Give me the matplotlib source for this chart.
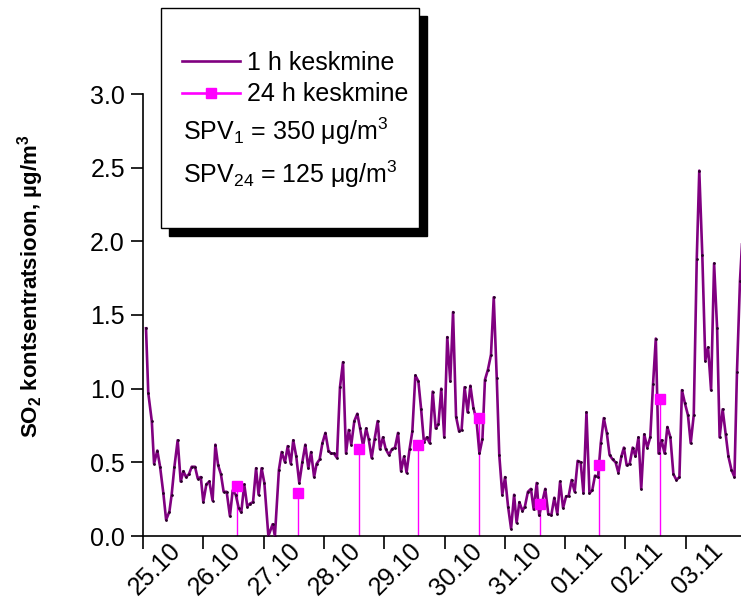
import matplotlib
matplotlib.use('Agg')
import matplotlib.pyplot as plt
from matplotlib.patches import Rectangle
from matplotlib.lines import Line2D
from matplotlib.ticker import NullFormatter

plt.rcParams['font.family'] = ['Liberation Sans', 'DejaVu Sans']
plt.rcParams['mathtext.fontset'] = 'custom'
plt.rcParams['mathtext.rm'] = 'Liberation Sans'
plt.rcParams['mathtext.it'] = 'Liberation Sans:italic'
plt.rcParams['mathtext.bf'] = 'Liberation Sans:bold'

# ---- data (time in hours from 25.10 00:00) ----
t_1h = [1.2, 2.1, 3.5, 4.4, 5.7, 6.8, 8.1, 9.2, 10.5, 11.4, 12.5, 13.8, 15.0, 16.1,
        17.1, 18.3, 19.4, 20.7, 21.8, 23.0, 24.0, 25.2, 26.4, 27.7, 28.8, 29.9,
        31.0, 32.1, 33.3, 34.6, 35.7, 36.9, 38.1, 39.1, 40.3, 41.5, 42.6, 43.8,
        45.0, 46.0, 47.2, 48.3, 49.9, 51.6, 52.5, 54.1, 55.2, 56.5, 57.6, 58.8,
        59.8, 61.0, 62.2, 63.4, 64.6, 65.8, 66.9, 68.1, 69.1, 70.3, 71.4, 72.6,
        73.8, 74.8, 76.0, 77.2, 78.4, 79.6, 80.8, 81.9, 82.9, 84.1, 85.3, 86.4,
        87.6, 88.8, 89.8, 91.0, 92.2, 93.4, 94.3, 95.5, 96.6, 97.9, 99.1, 100.3,
        101.5, 102.7, 103.9, 104.9, 106.1, 107.2, 108.4, 109.6, 110.7, 111.8,
        113.0, 114.1, 115.3, 116.5, 117.6, 118.7, 119.9, 121.1, 122.3, 123.4,
        124.6, 125.8, 126.8, 128.0, 129.2, 130.3, 131.5, 132.7, 133.9, 135.1,
        136.1, 137.3, 138.5, 139.6, 140.8, 141.8, 143.0, 144.1, 145.3, 146.5,
        147.7, 148.7, 149.8, 151.0, 152.0, 153.2, 154.4, 155.5, 156.7, 157.7,
        158.9, 160.1, 161.3, 162.5, 163.7, 164.9, 166.0, 167.2, 168.4, 169.4,
        170.6, 171.8, 173.0, 174.2, 175.3, 176.5, 177.7, 178.8, 179.9, 181.1,
        182.2, 183.4, 184.6, 185.7, 186.9, 188.1, 189.2, 190.4, 191.4, 192.5,
        193.7, 194.9, 196.0, 197.2, 198.3, 199.5, 200.7, 201.9, 203.0, 204.1,
        205.2, 206.4, 207.6, 208.7, 209.9, 211.1, 212.3, 213.5, 214.5, 215.7,
        216.9, 218.0, 219.2, 220.4, 221.4, 222.6, 223.8, 224.9, 226.1, 227.3,
        228.5, 229.5, 230.7, 231.9, 233.0, 234.2, 235.4, 236.4, 237.6, 238.8]
v_1h = [1.41, 0.97, 0.78, 0.49, 0.58, 0.47, 0.29, 0.11, 0.165, 0.28, 0.47, 0.65, 0.37, 0.44,
        0.40, 0.42, 0.47, 0.47, 0.39, 0.40, 0.23, 0.35, 0.37, 0.24, 0.62, 0.48,
        0.42, 0.30, 0.30, 0.135, 0.31, 0.28, 0.19, 0.16, 0.35, 0.20, 0.22, 0.23,
        0.46, 0.28, 0.46, 0.36, 0.00, 0.08, 0.00, 0.45, 0.57, 0.50, 0.61, 0.49,
        0.65, 0.54, 0.36, 0.50, 0.62, 0.46, 0.57, 0.40, 0.49, 0.52, 0.63, 0.70,
        0.58, 0.56, 0.56, 0.53, 1.01, 1.18, 0.56, 0.72, 0.62, 0.78, 0.83, 0.73,
        0.61, 0.73, 0.66, 0.53, 0.66, 0.78, 0.59, 0.67, 0.59, 0.55, 0.59, 0.60,
        0.70, 0.44, 0.54, 0.43, 0.59, 0.71, 1.09, 1.05, 0.86, 0.64,
        0.67, 0.63, 0.98, 0.73, 0.76, 1.00, 0.67, 1.35, 1.05, 1.52,
        0.81, 0.71, 0.72, 1.01, 0.84, 1.02, 0.87, 0.79, 0.56, 0.66,
        1.06, 1.13, 1.23, 1.62, 1.07, 0.55, 0.28, 0.40, 0.20, 0.05,
        0.28, 0.09, 0.23, 0.17, 0.20, 0.30, 0.32, 0.18, 0.36, 0.14,
        0.23, 0.32, 0.15, 0.14, 0.26, 0.15, 0.37, 0.19, 0.27, 0.27,
        0.38, 0.30, 0.51, 0.50, 0.29, 0.84, 0.29, 0.31, 0.41, 0.40,
        0.63, 0.80, 0.70, 0.55, 0.52, 0.50, 0.43, 0.54, 0.60, 0.48,
        0.49, 0.60, 0.54, 0.67, 0.32, 0.69, 0.60, 0.67, 1.03, 1.34,
        0.56, 0.65, 0.56, 0.74, 0.67, 0.42, 0.38, 0.40, 0.99, 0.90,
        0.82, 0.63, 0.82, 1.88, 2.48, 1.91, 1.19, 1.28, 0.99, 1.85,
        1.41, 0.67, 0.86, 0.69, 0.54, 0.45, 0.40, 1.11, 1.73, 2.10]

t_24h = [37.4, 61.7, 86.0, 109.5, 133.7, 158.0, 181.5, 205.8]
v_24h = [0.34, 0.29, 0.59, 0.62, 0.80, 0.22, 0.48, 0.93]

day_labels = ['25.10', '26.10', '27.10', '28.10', '29.10', '30.10',
              '31.10', '01.11', '02.11', '03.11']
y_ticks = [0.0, 0.5, 1.0, 1.5, 2.0, 2.5, 3.0]

PURPLE = '#800080'
MAGENTA = '#FF00FF'

W, H = 741, 601
fig = plt.figure(figsize=(W / 100, H / 100), dpi=100)


def fx(px):
    return px / W


def fy(py):
    return 1 - py / H


ax = fig.add_axes([fx(143), fy(536), fx(741) - fx(143), fy(94) - fy(536)])
ax.set_facecolor('none')

# 24 h stems + markers
ax.vlines(t_24h, 0, v_24h, colors=MAGENTA, linewidth=1.0, zorder=2)
ax.plot(t_24h, v_24h, linestyle='none', marker='s', markersize=7.2,
        color=MAGENTA, zorder=4)
# 1 h line
ax.plot(t_1h, v_1h, color=PURPLE, linewidth=1.9, zorder=3,
        marker='o', markersize=1.0, markerfacecolor='#2a002a',
        markeredgecolor='#2a002a')

ax.set_xlim(0, (741 - 143) / 2.5125)
ax.set_ylim(0, 3.0)

for s in ['top', 'right']:
    ax.spines[s].set_visible(False)
for s in ['left', 'bottom']:
    ax.spines[s].set_linewidth(1.2)

ax.set_yticks(y_ticks)
ax.set_yticklabels([f'{v:.1f}' for v in y_ticks])
ax.tick_params(axis='y', direction='out', length=9, width=1.2, labelsize=18, pad=4)

day_pos = [24 * i for i in range(len(day_labels))]
ax.set_xticks(day_pos)
ax.xaxis.set_major_formatter(NullFormatter())
ax.tick_params(axis='x', which='major', direction='out', length=9, width=1.2)
ax.set_xticks([p + 10 for p in day_pos], minor=True)
ax.set_xticklabels(day_labels, minor=True)
ax.tick_params(axis='x', which='minor', length=0, labelsize=18, pad=2)
for lab in ax.get_xticklabels(minor=True):
    lab.set_rotation(45)
    lab.set_ha('right')
    lab.set_va('top')
    lab.set_rotation_mode('anchor')

# y label
fig.text(fx(31), fy(286), 'SO$_\\mathbf{2}$ kontsentratsioon, µg/m$^\\mathbf{3}$',
         rotation=90, ha='center', va='center', fontsize=16, fontweight='bold')

# legend box with shadow
x0, y0, x1, y1 = 160.7, 8.3, 418.7, 227.7
sh = 8
fig.add_artist(Rectangle((fx(x0 + sh), fy(y1 + sh)), fx(x1) - fx(x0), fy(y0) - fy(y1),
                         transform=fig.transFigure, facecolor='black',
                         edgecolor='black', zorder=5))
fig.add_artist(Rectangle((fx(x0), fy(y1)), fx(x1) - fx(x0), fy(y0) - fy(y1),
                         transform=fig.transFigure, facecolor='white',
                         edgecolor='black', linewidth=1.0, zorder=6))
fig.add_artist(Line2D([fx(182), fx(240)], [fy(60.5), fy(60.5)], transform=fig.transFigure,
                      color=PURPLE, linewidth=1.9, zorder=7))
fig.add_artist(Line2D([fx(182), fx(240)], [fy(92.7), fy(92.7)], transform=fig.transFigure,
                      color=MAGENTA, linewidth=1.9, zorder=7))
fig.add_artist(Line2D([fx(211)], [fy(92.7)], transform=fig.transFigure,
                      color=MAGENTA, marker='s', markersize=7.2, zorder=8))
fig.text(fx(247), fy(70), '1 h keskmine', fontsize=18, va='baseline', ha='left', zorder=8)
fig.text(fx(247), fy(100.7), '24 h keskmine', fontsize=18, va='baseline', ha='left', zorder=8)
fig.text(fx(183), fy(140), 'SPV$_1$ = 350 μg/m$^3$', fontsize=18, va='baseline', ha='left', zorder=8)
fig.text(fx(183), fy(183.3), 'SPV$_{24}$ = 125 μg/m$^3$', fontsize=18, va='baseline', ha='left', zorder=8)

fig.savefig('out.png', dpi=100)
